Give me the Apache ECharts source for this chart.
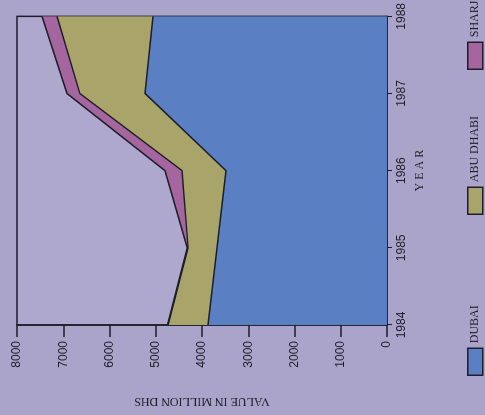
<!DOCTYPE html>
<html>
<head>
<meta charset="utf-8">
<script src="https://cdn.jsdelivr.net/npm/echarts@6/dist/echarts.min.js"></script>
<style>
  html, body { margin: 0; padding: 0; width: 485px; height: 415px; overflow: hidden; background: #aaa4ca; }
  /* the printed chart is turned on its side: draw it upright, then rotate the box */
  #mychart { position: absolute; left: 0; top: 415px; width: 415px; height: 485px;
             transform-origin: 0 0; transform: rotate(-90deg); }
</style>
</head>
<body>
<div id="mychart"></div>
<script>
// data (million DHS)
var years = ['1984', '1985', '1986', '1987', '1988'];
var dubai = [3870, 3675, 3480, 5230, 5060];
var abuDhabi = [865, 625, 950, 1410, 2075];
var sharjah = [10, 20, 370, 280, 325];
var valueTicks = [0, 8000, 1000]; // min, max, step

var serif = 'Liberation Serif';
var sans = 'Liberation Sans';
var ink = '#1e1e2a';

var myChart = echarts.init(document.getElementById('mychart'));

function area(name, data, color) {
  return {
    name: name,
    type: 'line',
    stack: 'total',
    symbol: 'none',
    data: data,
    lineStyle: { color: ink, width: 1.5 },
    areaStyle: { color: color, opacity: 1 },
    itemStyle: { color: color }
  };
}

function legendAt(name, left) {
  return {
    data: [name],
    left: left,
    top: 467,
    padding: 0,
    icon: 'rect',
    itemWidth: 27,
    itemHeight: 15,
    itemGap: 4,
    itemStyle: { borderColor: ink, borderWidth: 1.5 },
    textStyle: { fontFamily: serif, fontSize: 12, color: ink }
  };
}

var option = {
  backgroundColor: '#aaa4ca',
  animation: false,
  legend: [
    legendAt('DUBAI', 39),
    legendAt('ABU DHABI', 200),
    legendAt('SHARJAH', 345)
  ],
  grid: {
    left: 88, right: 14, top: 17, bottom: 98,
    show: true,
    backgroundColor: '#aea8ce',
    borderColor: ink,
    borderWidth: 1.5
  },
  xAxis: {
    type: 'category',
    data: years,
    boundaryGap: false,
    name: 'Y E A R',
    nameLocation: 'middle',
    nameGap: 27,
    nameTextStyle: { fontFamily: serif, fontSize: 12, color: ink },
    axisLine: { lineStyle: { color: ink, width: 1.5 } },
    axisTick: { length: 5, lineStyle: { color: ink } },
    axisLabel: { margin: 9, fontFamily: sans, fontSize: 12, color: ink }
  },
  yAxis: {
    type: 'value',
    min: valueTicks[0],
    max: valueTicks[1],
    interval: valueTicks[2],
    name: 'VALUE IN MILLION DHS',
    nameLocation: 'middle',
    nameRotate: 90,
    nameGap: 70,
    nameTextStyle: { fontFamily: serif, fontSize: 12, color: ink },
    splitLine: { show: false },
    axisLine: { show: true, lineStyle: { color: ink, width: 1.5 } },
    axisTick: { show: true, length: 12, lineStyle: { color: ink, width: 1.5 } },
    axisLabel: {
      margin: 16, fontFamily: sans, fontSize: 12, color: ink,
      formatter: function (v) { return String(v); }
    }
  },
  series: [
    area('DUBAI', dubai, '#5a7fc2'),
    area('ABU DHABI', abuDhabi, '#a8a46a'),
    area('SHARJAH', sharjah, '#a5669f')
  ]
};
myChart.setOption(option);
</script>
</body>
</html>
